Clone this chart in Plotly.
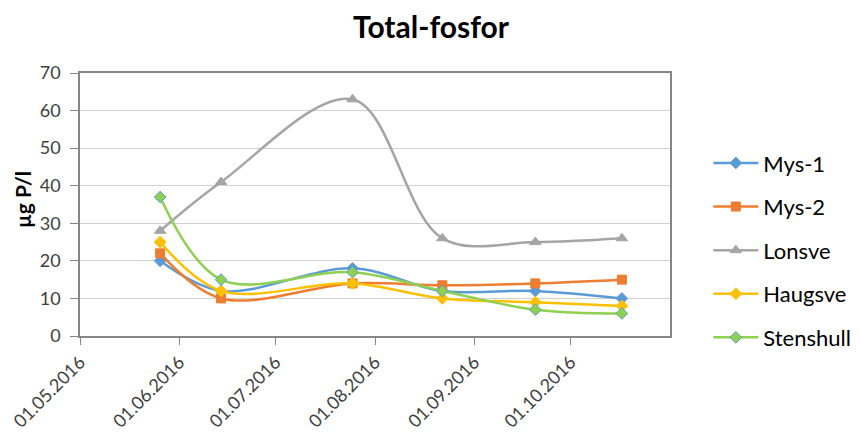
import plotly.graph_objects as go

dates = ["2016-05-26", "2016-06-14", "2016-07-25", "2016-08-22", "2016-09-20", "2016-10-17"]
mys1 = [20, 12, 18, 12, 12, 10]
mys2 = [22, 10, 14, 13.5, 14, 15]
lonsve = [28, 41, 63, 26, 25, 26]
haugsve = [25, 12, 14, 10, 9, 8]
stenshull = [37, 15, 17, 12, 7, 6]

tick_dates = ["2016-05-01", "2016-06-01", "2016-07-01", "2016-08-01", "2016-09-01", "2016-10-01"]
tick_labels = ["01.05.2016", "01.06.2016", "01.07.2016", "01.08.2016", "01.09.2016", "01.10.2016"]

series = [
    ("Mys-1", mys1, "#5B9BD5", "diamond", 9, "#5B9BD5"),
    ("Mys-2", mys2, "#ED7D31", "square", 9, "#ED7D31"),
    ("Lonsve", lonsve, "#A5A5A5", "triangle-up", 10, "#A5A5A5"),
    ("Haugsve", haugsve, "#FFC000", "diamond", 9, "#FFC000"),
    ("Stenshull", stenshull, "#8ED04F", "diamond", 9, "#5B9BD5"),
]

fig = go.Figure()
for name, vals, col, sym, size, edge in series:
    fig.add_trace(go.Scatter(
        x=dates, y=vals, name=name, mode="lines+markers",
        line=dict(color=col, width=2.5, shape="spline", smoothing=1.0),
        marker=dict(symbol=sym, size=size, color=col, line=dict(color=edge, width=1)),
        legendgroup=name,
    ))

font_family = "Lato, 'Open Sans', sans-serif"
W = 900

fig.update_layout(
    width=W, height=425,
    margin=dict(l=72, r=W - 72 - 590, t=65, b=97),
    paper_bgcolor="white", plot_bgcolor="white",
    title=dict(text="<b>Total-fosfor</b>", x=423 / W, xref="container",
               xanchor="center", y=0.955, yanchor="middle",
               font=dict(family=font_family, size=30, color="black")),
    font=dict(family=font_family, color="#404040"),
    showlegend=True,
    legend=dict(x=1.065, xanchor="left", y=0.3265, yanchor="middle",
                font=dict(size=22, color="black", family=font_family),
                itemwidth=45,
                tracegroupgap=12, traceorder="grouped", bgcolor="rgba(0,0,0,0)"),
    xaxis=dict(
        type="date", range=["2016-05-01", "2016-11-01"],
        tickvals=tick_dates, ticktext=tick_labels, tickangle=-45,
        ticks="outside", ticklen=7, tickcolor="#868686",
        showgrid=False, showline=True, linecolor="#868686", linewidth=1.5,
        mirror=True, tickfont=dict(size=18, color="#404040"),
        zeroline=False, automargin=False,
    ),
    yaxis=dict(
        range=[0, 70], dtick=10, tick0=0,
        ticks="outside", ticklen=8, tickcolor="#868686",
        ticklabelstandoff=6,
        showgrid=True, gridcolor="#D0D0D0", gridwidth=1,
        showline=True, linecolor="#868686", linewidth=1.5, mirror=True,
        tickfont=dict(size=18, color="#404040"),
        zeroline=False, automargin=False,
    ),
    annotations=[dict(
        text="<b>µg P/l</b>", textangle=-90, showarrow=False,
        xref="paper", yref="paper", x=(14 - 72) / 590, y=0.517,
        xanchor="center", yanchor="middle",
        font=dict(family=font_family, size=21, color="black"),
    )],
)

fig.write_html("out.html")
